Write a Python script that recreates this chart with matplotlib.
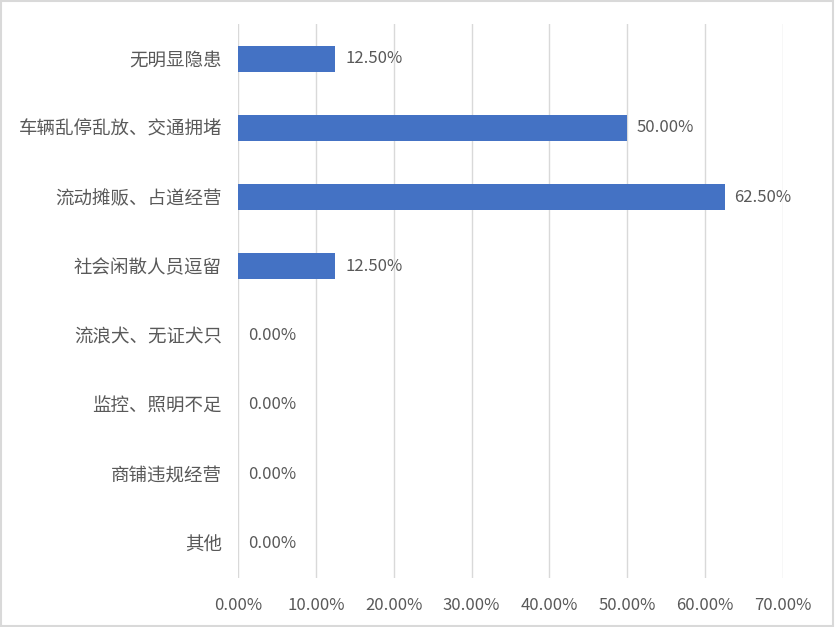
import matplotlib
matplotlib.use("Agg")
import matplotlib.pyplot as plt
from matplotlib.patches import Rectangle
from matplotlib.ticker import FuncFormatter, MultipleLocator

plt.rcParams["font.family"] = ["Noto Sans CJK SC", "DejaVu Sans"]

categories = [
    "无明显隐患",
    "车辆乱停乱放、交通拥堵",
    "流动摊贩、占道经营",
    "社会闲散人员逗留",
    "流浪犬、无证犬只",
    "监控、照明不足",
    "商铺违规经营",
    "其他",
]
shares = [12.5, 50.0, 62.5, 12.5, 0.0, 0.0, 0.0, 0.0]

TEXT = "#595959"
BAR = "#4472C4"

fig = plt.figure(figsize=(8.35, 6.27), dpi=100)
ax = fig.add_axes([0.285, 0.0782, 0.6527, 0.8835])

y = list(range(len(categories)))
bars = ax.barh(y, shares, height=0.375, color=BAR, zorder=3)
ax.bar_label(bars, labels=[f"{v:.2f}%" for v in shares], padding=7,
             color=TEXT, fontsize=12)

ax.set_yticks(y)
ax.set_yticklabels(categories, fontsize=13.3)
ax.set_ylim(len(categories) - 0.5, -0.5)
ax.set_xlim(0, 70)
ax.xaxis.set_major_locator(MultipleLocator(10))
ax.xaxis.set_major_formatter(FuncFormatter(lambda v, _: f"{v:.2f}%"))
ax.tick_params(axis="both", length=0, colors=TEXT)
ax.tick_params(axis="x", labelsize=12, pad=14)
ax.tick_params(axis="y", pad=11.5)
ax.grid(axis="x", color="#D9D9D9", linewidth=1, zorder=0)
for side in ax.spines.values():
    side.set_visible(False)

fig.patches.append(Rectangle((0.001, 0.002), 0.997, 0.996, transform=fig.transFigure,
                             fill=False, edgecolor="#D9D9D9", linewidth=1.5))

fig.savefig("out.png", dpi=100)
